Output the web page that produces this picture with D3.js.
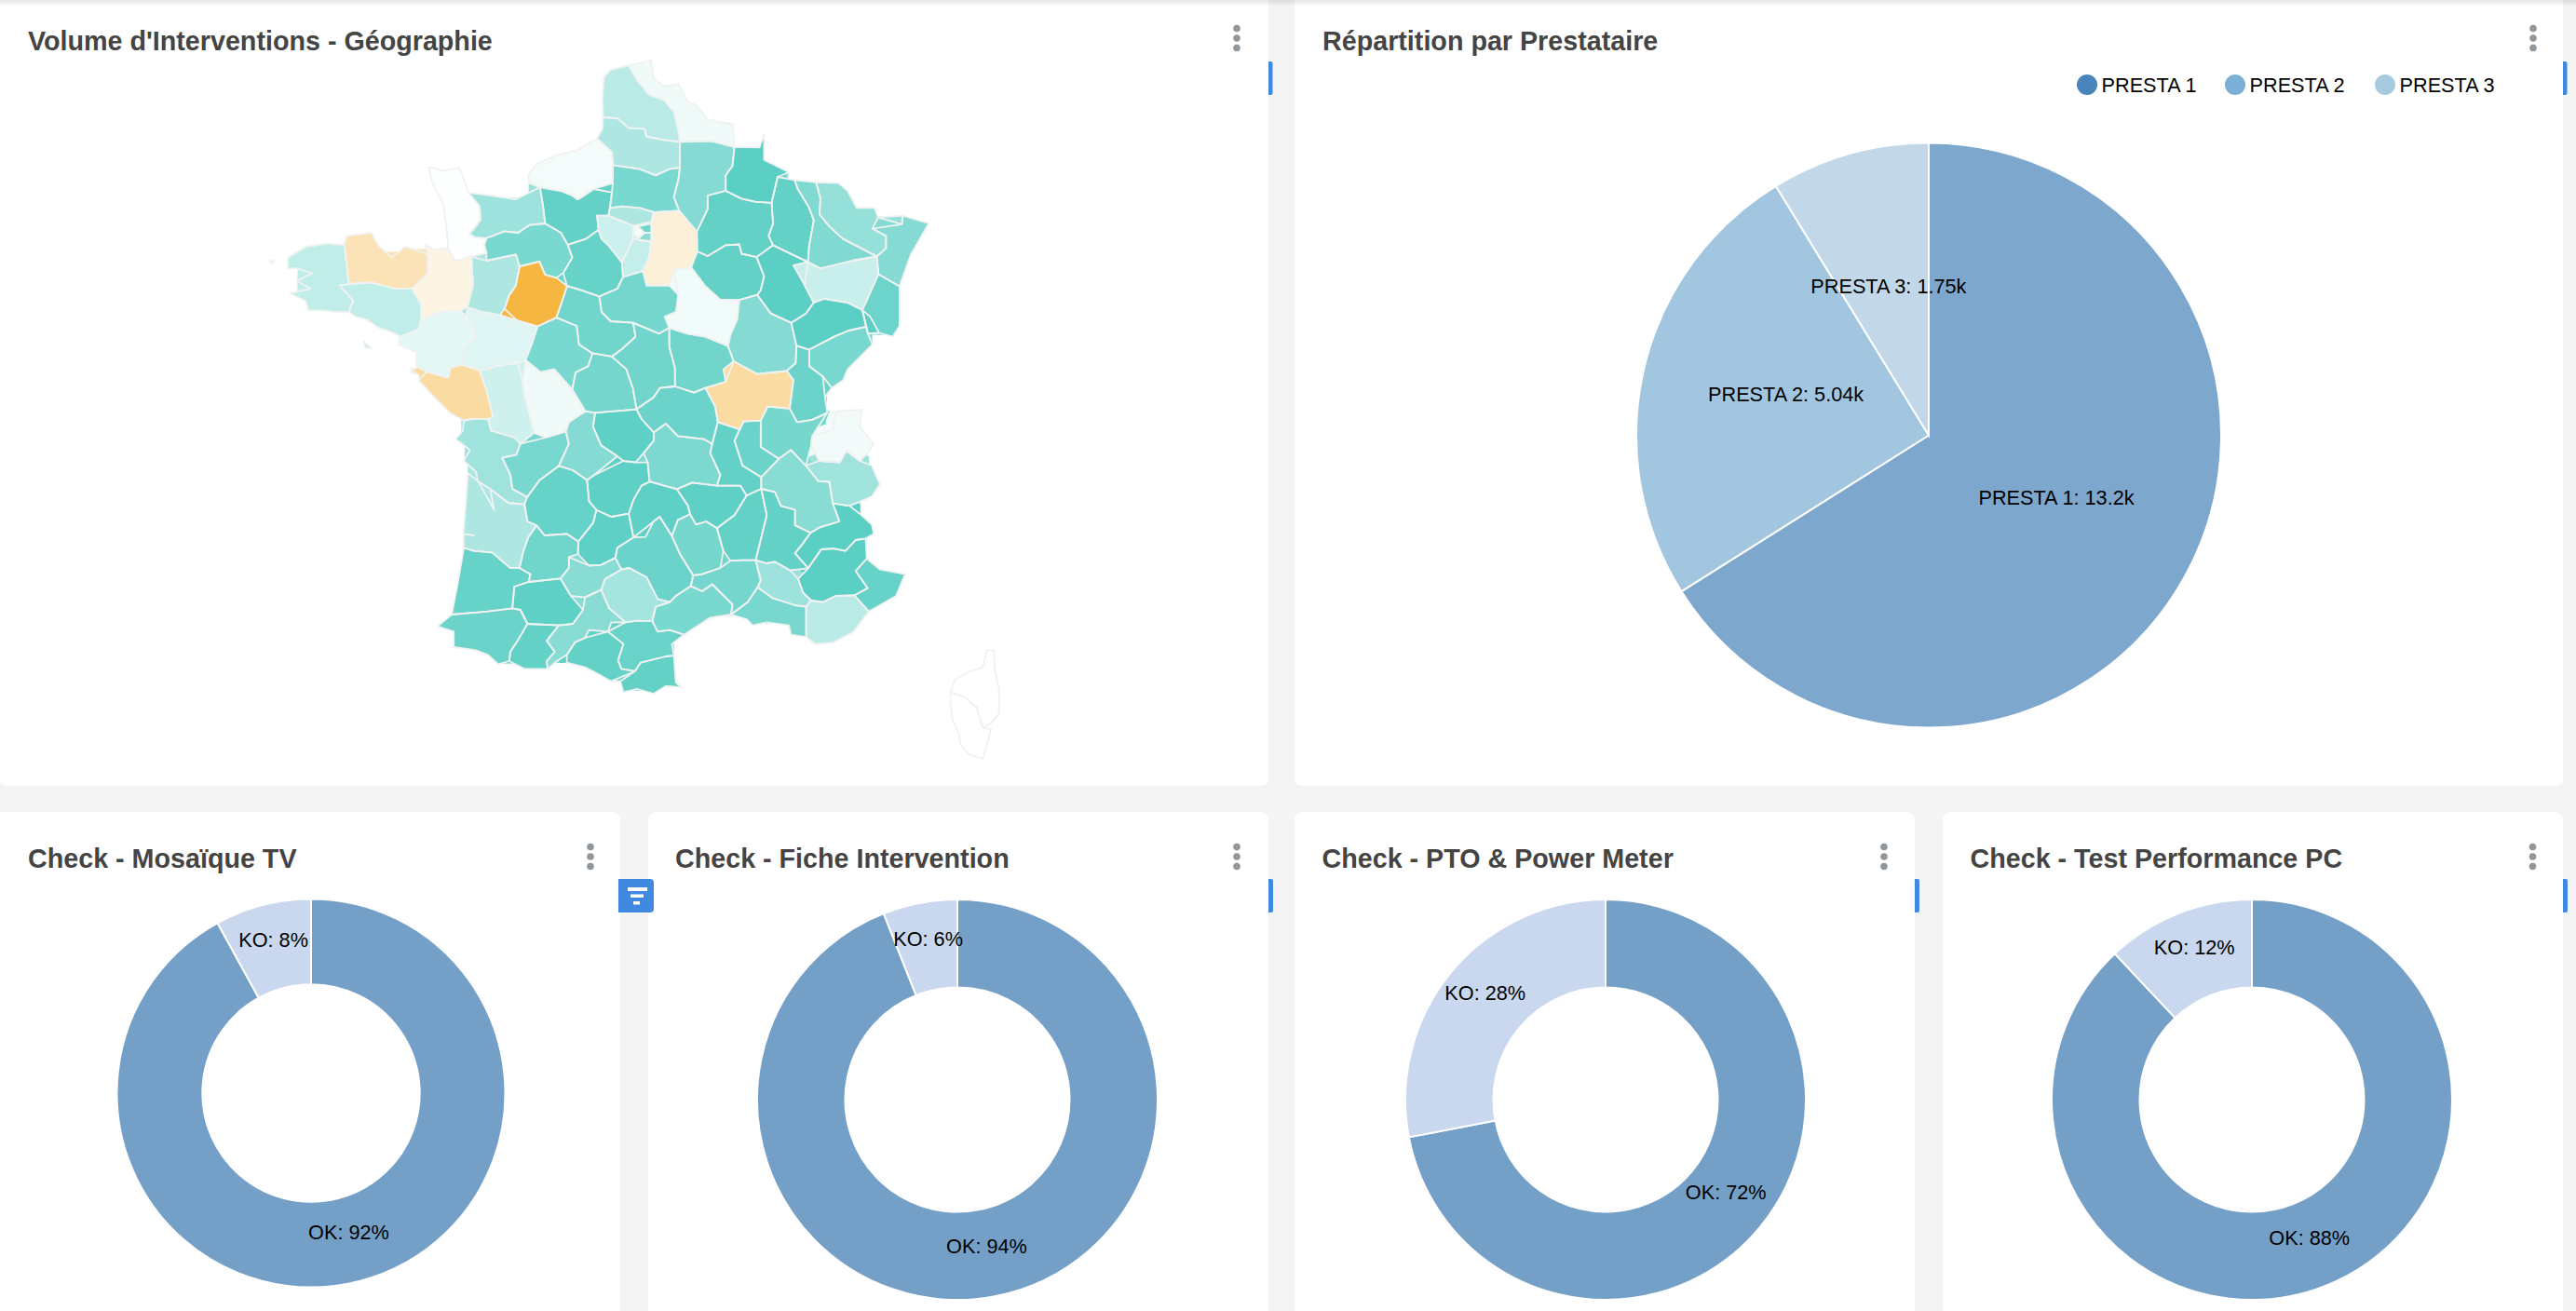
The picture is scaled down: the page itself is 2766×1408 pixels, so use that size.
<!DOCTYPE html>
<html><head><meta charset="utf-8">
<script src="https://cdn.jsdelivr.net/npm/d3@7"></script>
<style>
html,body{margin:0;padding:0;background:#f4f4f4;overflow:hidden}
svg{display:block}
text{font-family:"Liberation Sans",Arial,sans-serif}
</style></head><body>
<svg id="c" width="2766" height="1408"></svg>
<script>
// ---------- DATA ----------
const prestaLabels = ["PRESTA 1","PRESTA 2","PRESTA 3"];
const prestaValues = [13200,5040,1750];
const checkTitles = ["Check - Mosaïque TV","Check - Fiche Intervention","Check - PTO & Power Meter","Check - Test Performance PC"];
const checkLabels = ["OK","KO"];
const checkOK = [92,94,72,88];
const checkKO = [8,6,28,12];
const mapTitle = "Volume d'Interventions - Géographie";
const pieTitle = "Répartition par Prestataire";

// Department outlines: [code, volume index, outline].
// Index: negative = orange side, positive = teal side.
const deptNorth = [
["59",10,"815,60 865,45 870,100 895,130 925,120 945,175 965,190 990,235 1045,250 1048,310 1000,305 930,312 925,270 915,210 895,180 890,160 860,155 835,110"],
["62",43,"760,100 775,75 815,62 835,110 860,155 890,160 895,185 915,210 925,270 925,300 890,300 855,290 850,265 815,262 790,230 760,228 757,170"],
["80",50,"757,228 790,232 815,262 850,265 855,290 890,300 930,305 930,390 905,395 875,415 840,395 780,382 778,340 745,295 757,265"],
["02",75,"930,312 1000,305 1050,330 1045,385 1030,415 1030,465 990,480 985,520 995,525 965,590 935,535 925,520 915,485 925,430 930,390"],
["08",100,"1050,330 1105,325 1115,282 1115,365 1170,405 1145,420 1135,500 1095,500 1065,490 1030,465 1030,415 1045,385"],
["76",7,"745,298 778,340 780,440 745,458 710,490 690,480 665,465 620,450 595,440 592,415 610,380 655,350 700,335"],
["60",82,"780,382 840,395 875,415 905,395 925,390 925,430 915,485 925,520 925,535 880,530 840,520 800,515 775,520 780,440"],
["27",95,"620,450 665,465 690,480 695,495 730,460 778,470 770,520 745,545 745,590 720,620 680,635 665,600 630,570 625,510"],
["14",60,"462,472 510,480 565,492 615,460 625,510 630,570 595,575 570,600 540,595 500,610 480,610 462,605 485,560 485,515"],
["50",1,"372,388 405,400 440,390 448,420 458,470 485,515 488,560 462,605 470,620 500,630 500,665 465,670 430,690 415,650 412,590 405,510 380,440"],
["61",82,"500,612 540,595 570,600 595,575 630,570 665,600 680,640 690,680 670,730 655,745 625,695 610,690 580,700 565,670 500,690 495,640"],
["35",-15,"365,640 385,655 415,650 430,690 465,675 470,770 460,830 440,850 395,855 355,880 355,830 335,785 370,730 370,670"],
["22",-38,"190,610 245,600 260,640 290,680 320,645 345,655 370,670 370,730 335,770 300,770 295,790 245,760 195,765"],
["29",38,"60,680 100,645 150,635 185,640 190,700 195,765 175,770 205,820 195,855 170,855 130,850 105,850 100,820 65,795 110,780 80,755 115,730 80,715 60,715"],
["56",38,"175,770 195,765 245,760 295,790 300,770 335,785 355,830 355,880 350,910 290,920 260,905 235,880 210,870 195,855 205,820"],
["44",17,"355,880 395,855 430,848 455,870 470,900 475,935 445,975 445,1025 420,1035 420,1060 410,1070 370,1055 345,1030 345,985 305,960 310,935 350,910"],
["49",20,"455,855 490,855 530,865 565,880 610,905 600,960 590,1010 540,1025 480,1040 445,1025 445,975 475,935 470,900"],
["53",50,"470,685 500,690 565,670 570,710 565,770 550,810 540,845 530,865 490,855 455,850 470,770"],
["72",-100,"610,690 625,695 630,735 678,770 670,810 655,870 620,895 570,885 540,845 550,795 565,770 570,715"],
["28",93,"680,640 720,620 745,590 755,620 800,705 800,750 790,780 745,805 710,785 680,770 670,730 690,680"],
["78",31,"745,545 770,545 820,575 825,620 800,690 770,640 755,590"],
["95",50,"775,520 800,515 840,520 865,530 865,565 830,580 770,545"],
["93",88,"835,580 865,570 868,600 850,600"],
["92",5,"825,600 835,580 850,600 835,620"],
["94",70,"850,600 868,600 868,630 840,625 835,620"],
["91",36,"825,620 860,625 860,680 845,720 805,735 800,690"],
["77",-20,"868,540 925,535 965,600 968,660 950,710 915,725 905,770 855,770 850,730 860,680 870,630"],
["45",85,"805,735 845,720 855,770 905,770 925,800 920,855 895,870 905,905 885,925 825,885 775,885 755,850 755,800 790,780 800,750"],
["41",87,"678,775 710,785 745,805 755,810 755,860 775,885 825,890 830,935 800,975 775,990 735,990 705,960 700,900 655,875 670,810"],
["37",82,"610,905 655,875 700,900 705,960 735,990 725,1030 700,1050 690,1095 650,1040 620,1050 590,1010 600,960"],
["86",10,"580,1010 620,1050 650,1040 690,1095 690,1115 718,1180 683,1210 678,1235 633,1260 607,1240 598,1200 585,1130"],
["79",30,"490,1045 570,1020 580,1080 585,1130 598,1200 607,1240 602,1255 575,1280 562,1260 508,1235 520,1195 500,1110"],
["85",-50,"350,1075 365,1040 415,1070 420,1035 445,1025 485,1045 500,1105 520,1185 504,1200 450,1205 419,1180 378,1120"],
["18",87,"825,895 880,925 905,905 905,965 920,1030 915,1090 885,1100 870,1130 830,1160 825,1100 810,1040 780,1010 800,975 830,935"],
["36",85,"735,985 775,985 780,1010 810,1040 825,1110 830,1170 745,1175 720,1170 690,1115 695,1050 725,1030"],
["58",87,"905,910 945,925 985,935 1035,965 1045,1005 1025,1040 1030,1080 985,1100 960,1115 920,1100 915,1040 905,970"],
["89",9,"915,715 950,715 985,780 1015,815 1060,820 1055,880 1040,930 1035,965 985,935 945,925 905,905 895,870 920,855 925,800"],
["10",96,"968,680 990,675 1030,640 1060,640 1065,670 1095,680 1115,740 1110,780 1060,810 1020,815 985,765 960,710"],
["51",96,"990,480 1030,465 1065,490 1130,505 1135,570 1125,610 1135,640 1100,675 1065,665 1060,635 1030,640 990,675 965,640 968,600 995,530 985,520"],
["55",96,"1145,420 1180,425 1190,460 1215,520 1225,560 1215,640 1210,695 1170,665 1135,640 1125,610 1135,570 1130,505"],
["52",100,"1100,680 1135,640 1170,665 1205,700 1205,770 1225,825 1205,860 1170,890 1130,860 1105,790 1115,740"],
["57",65,"1235,445 1280,440 1300,465 1320,520 1360,520 1365,545 1420,540 1420,570 1370,555 1350,590 1385,610 1385,650 1365,670 1290,620 1260,580 1240,540"],
["54",78,"1185,435 1225,430 1240,490 1235,540 1290,620 1365,675 1310,690 1240,715 1220,695 1210,690 1220,600 1225,560 1190,460"],
["67",75,"1365,580 1420,575 1425,550 1480,570 1460,620 1440,670 1415,770 1370,730 1365,680 1385,650 1385,610 1350,590"],
["68",90,"1370,735 1415,775 1415,900 1400,935 1375,930 1350,900 1330,850 1345,810"],
["88",33,"1180,705 1215,690 1240,715 1310,690 1365,680 1365,735 1345,810 1335,845 1300,825 1250,815 1225,825 1205,770"],
["90",100,"1335,850 1350,870 1365,915 1345,925 1335,890"],
["70",100,"1245,810 1300,825 1330,850 1340,910 1300,915 1270,935 1215,975 1185,960 1180,890 1210,860 1225,825"],
["25",83,"1215,975 1270,935 1305,915 1340,910 1355,960 1300,1040 1290,1075 1250,1130 1245,1060 1215,1030"],
["21",75,"1060,820 1100,800 1130,860 1175,890 1185,965 1185,1020 1165,1045 1100,1055 1050,1020 1035,965 1055,880"],
["71",-50,"985,1100 1030,1080 1040,1010 1055,1020 1100,1055 1165,1045 1180,1075 1175,1160 1125,1160 1108,1205 1072,1205 1067,1230 1018,1210 1000,1160"],
["39",91,"1190,965 1215,980 1215,1030 1245,1065 1265,1100 1250,1130 1255,1180 1219,1205 1188,1210 1170,1170 1180,1075 1165,1045 1185,1020"],
["i1",40,"228,950 245,972 232,972"],
["i2",-50,"333,1035 345,1055 335,1052"],
["i3",20,"20,690 30,692 25,697"]
];
const deptSouth = [
["03",91,"610,60 665,-10 700,-20 706,-10 750,5 778,-10 810,50 820,85 800,105 795,170 775,155 710,145 680,105 650,130 620,90"],
["23",98,"505,70 610,65 620,90 650,130 650,160 625,200 600,225 575,225 560,210 520,175 500,115"],
["87",75,"440,100 500,75 500,115 520,175 560,210 500,265 485,285 450,255 415,240 435,170"],
["16",83,"320,170 380,150 430,135 445,170 410,235 370,285 340,340 300,315 295,270 275,215 310,205"],
["17",58,"180,125 200,90 240,90 250,130 305,150 320,170 310,205 275,215 295,270 300,315 330,345 330,365 290,360 245,315 210,260 180,225 195,190 160,155 175,130"],
["33",50,"190,265 215,290 250,380 260,385 245,315 290,360 330,365 340,420 360,430 340,470 325,520 320,560 295,570 250,520 205,515 180,505 178,470 205,465 180,450 185,360"],
["40",93,"180,505 205,515 250,520 295,570 315,580 345,590 340,615 305,630 300,700 240,710 150,720 165,620"],
["64",91,"115,758 150,720 240,710 320,705 330,750 315,800 295,840 290,870 265,880 240,850 210,835 155,825 155,775"],
["65",96,"320,705 345,750 410,765 385,805 405,840 385,870 385,895 330,895 295,870 315,800 330,750"],
["32",98,"300,700 305,630 340,615 410,600 425,610 445,660 475,705 450,750 420,745 410,765 345,750 320,705"],
["47",88,"340,470 360,440 380,465 435,460 465,485 460,520 440,535 425,600 410,600 340,615 345,590 315,580 320,560 330,510"],
["24",93,"340,340 365,290 410,235 425,255 485,290 490,355 505,385 500,425 465,480 435,460 380,465 360,430 335,420"],
["19",98,"490,285 515,265 575,225 610,235 635,230 640,300 600,350 590,395 545,405 510,380 490,355"],
["46",98,"510,385 545,405 585,395 600,470 565,500 555,535 520,560 490,560 465,530 460,490 500,425"],
["82",73,"440,535 490,565 555,540 570,575 530,605 520,640 480,665 445,660 425,610 440,570"],
["12",91,"600,475 650,420 665,405 695,470 715,530 745,590 755,610 740,630 705,660 690,680 660,670 635,600 590,570 570,575 555,510"],
["15",98,"640,290 700,320 735,370 740,395 710,415 695,465 665,405 630,470 600,470 590,395 600,350 620,305"],
["43",98,"715,310 745,295 800,310 865,305 880,340 850,400 810,440 780,420 755,430 740,395 735,370"],
["48",84,"740,400 755,430 780,420 805,445 820,510 815,570 770,590 740,570 715,520 695,465 710,415"],
["63",80,"650,140 680,105 710,145 775,155 790,200 815,270 810,305 745,295 715,315 700,320 640,285 625,200 650,160"],
["42",96,"800,110 860,125 850,160 870,240 915,280 910,310 880,335 865,305 810,300 815,270 790,200"],
["69",91,"860,125 870,100 915,95 915,180 960,215 925,265 910,280 870,240 850,160"],
["01",84,"915,95 930,50 985,60 1005,100 1045,90 1080,70 1040,150 1025,240 990,190 960,215 915,180"],
["74",8,"1095,100 1105,65 1165,60 1160,115 1195,170 1180,200 1160,225 1125,190 1110,230 1060,225 1040,175 1045,140 1095,125"],
["73",58,"1030,240 1060,225 1110,230 1130,195 1160,225 1190,240 1210,300 1190,340 1135,370 1095,360 1085,290 1060,280"],
["38",73,"915,285 960,225 990,190 1025,240 1055,300 1085,295 1090,360 1110,420 1060,440 1030,455 1000,430 1000,380 965,370 950,325 920,320"],
["26",96,"920,320 950,325 965,370 1000,385 1000,435 1040,460 1020,490 1000,525 1030,565 1020,585 990,575 950,550 930,555 905,545 930,400"],
["07",96,"880,335 915,310 930,400 900,545 870,545 840,550 825,520 805,440 850,400"],
["05",100,"1095,365 1135,370 1160,395 1190,430 1195,460 1150,480 1125,515 1095,510 1065,510 1045,565 1030,565 1000,520 1020,490 1045,455 1110,420"],
["04",100,"1065,510 1095,505 1125,515 1175,475 1175,540 1150,580 1180,635 1145,655 1100,660 1070,680 1040,665 1010,610 1025,575 1045,570"],
["06",93,"1180,540 1210,575 1270,580 1275,600 1250,660 1185,710 1150,660 1180,635 1150,580"],
["83",43,"1040,680 1070,680 1100,660 1145,660 1180,710 1145,775 1095,810 1050,815 1030,795 1030,700"],
["13",83,"905,640 945,670 1000,690 1025,690 1025,790 990,785 985,755 930,745 895,755 880,735 845,725 880,680"],
["84",60,"905,545 930,555 985,580 1005,600 1020,650 1040,680 1000,690 945,665 910,625"],
["30",85,"745,590 770,590 815,570 830,540 850,550 900,545 915,610 885,680 845,725 845,690 800,625 770,645 745,625 755,610"],
["34",82,"655,695 690,680 705,660 740,630 770,645 790,620 845,685 835,710 790,730 725,785 690,770 660,775 645,745"],
["81",55,"520,640 530,605 590,570 630,600 660,670 690,680 655,695 650,740 610,740 580,745 540,700"],
["31",73,"480,665 520,640 540,700 580,745 545,745 535,775 490,770 480,795 455,810 435,850 410,870 390,895 385,870 405,840 385,805 420,745 450,750 475,705"],
["09",96,"435,875 455,810 480,795 535,775 575,815 570,865 555,870 570,895 600,905 565,925 510,910 480,890"],
["11",92,"540,775 580,745 645,740 660,775 690,770 725,785 695,815 700,850 680,855 620,875 615,895 600,905 570,895 560,870 575,815"],
["66",96,"545,935 600,905 615,875 680,855 700,855 705,940 720,955 680,950 650,975 610,960 575,970 570,945"],
["2B",0,"1475,835 1492,835 1495,900 1505,960 1505,1040 1485,1070 1465,1085 1450,1020 1420,985 1385,970 1395,930 1430,905 1465,890"],
["2A",0,"1385,970 1420,985 1450,1020 1465,1085 1485,1090 1475,1140 1465,1185 1430,1170 1410,1140 1405,1100 1390,1060 1385,1010"]
];
const unsnapped = new Set(["93","92","94","i1","i2","i3","2A","2B"]);

// ---------- LAYOUT ----------
const svg = d3.select("#c");
const W=2766,H=1408;
const ink="#444444", dotsC="#8f979d", blue="#3f8ae0";
const topCards=[{x:0,y:-10,w:1362,h:854,title:mapTitle,dots:1328},{x:1390,y:-10,w:1362,h:854,title:pieTitle,dots:2720}];
const lowCards=[{x:-10,w:676},{x:696,w:666},{x:1390,w:666},{x:2086,w:666}];

const defs=svg.append("defs");
const g0=defs.append("linearGradient").attr("id","sh").attr("x1",0).attr("x2",0).attr("y1",0).attr("y2",1);
g0.append("stop").attr("offset",0).attr("stop-color","#000").attr("stop-opacity",.1);
g0.append("stop").attr("offset",1).attr("stop-color","#000").attr("stop-opacity",0);

svg.append("rect").attr("width",W).attr("height",H).attr("fill","#f4f4f4");

function dots(x,cy){
  [-10.5,0,10.5].forEach(d=>svg.append("circle").attr("cx",x).attr("cy",cy+d).attr("r",3.8).attr("fill",dotsC));
}
function tab(x,y,w,h){
  svg.append("path").attr("fill",blue)
   .attr("d",`M${x},${y}h${w-2}q2,0 2,2v${h-4}q0,2 -2,2h-${w-2}z`);
}
const titleSize=28.7, labelSize=21.7;
topCards.forEach(c=>{
  svg.append("rect").attr("x",c.x).attr("y",c.y).attr("width",c.w).attr("height",c.h).attr("rx",8).attr("fill","#fff");
  svg.append("text").attr("x",c.x+30).attr("y",54).attr("font-size",titleSize).attr("font-weight",700).attr("fill",ink).text(c.title);
  dots(c.dots,41);
  tab(c.x+c.w,66,4.5,36);
});
lowCards.forEach((c,i)=>{
  svg.append("rect").attr("x",c.x).attr("y",872).attr("width",c.w).attr("height",600).attr("rx",8).attr("fill","#fff");
  svg.append("text").attr("x",i==0?30:c.x+(i==1?29:29.5)).attr("y",932).attr("font-size",titleSize).attr("font-weight",700).attr("fill",ink).text(checkTitles[i]);
  dots([634,1328,2023,2719.5][i],920);
  if(i>0) tab(c.x+c.w,944,5,36);
});
svg.append("rect").attr("width",W).attr("height",7).attr("fill","url(#sh)");

// filter button
svg.append("path").attr("fill",blue).attr("d","M664,944h34q4,0 4,4v28q0,4 -4,4h-34z");
[[674,953,21,4],[677,960.5,14,3.5],[680,968,7,3.5]].forEach(b=>svg.append("rect").attr("x",b[0]).attr("y",b[1]).attr("width",b[2]).attr("height",b[3]).attr("fill","#fff"));

// ---------- MAP ----------
const xN=d3.scaleLinear([0,1568],[280,1040]), yN=d3.scaleLinear([0,1200],[50,450]);
const xS=d3.scaleLinear([0,1568],[420,1100]), yS=d3.scaleLinear([0,1260],[420,840]);
const mapColor=d3.scaleLinear().domain([-100,0,100]).range(["#f5b642","#ffffff","#5ccfc4"]);
const parse=(rows,sx,sy)=>rows.map(d=>({id:d[0],value:d[1],pts:d[2].split(" ").map(p=>{const a=p.split(",").map(Number);return [sx(a[0]),sy(a[1])];})}));
const shapes=[...parse(deptNorth,xN,yN),...parse(deptSouth,xS,yS)];

// Make neighbouring traced outlines share their borders.
const SNAP=8, EDGE=6.5;
const soft=shapes.filter(s=>!unsnapped.has(s.id));
const seeds=[];
soft.forEach(s=>{s.pts=s.pts.map(p=>{
  let c=seeds.find(q=>Math.hypot(q.x-p[0],q.y-p[1])<SNAP);
  if(!c){c={x:p[0],y:p[1],sx:0,sy:0,n:0};seeds.push(c);}
  c.sx+=p[0];c.sy+=p[1];c.n++;
  return c;
});});
seeds.forEach(c=>{c.x=c.sx/c.n;c.y=c.sy/c.n;});
soft.forEach(s=>{
  const out=[];
  s.pts=s.pts.filter((p,i,a)=>p!==a[(i+1)%a.length]);
  s.pts.forEach((a,i)=>{
    const b=s.pts[(i+1)%s.pts.length];
    out.push(a);
    const dx=b.x-a.x,dy=b.y-a.y,L=dx*dx+dy*dy;
    const ins=[];
    if(L>0) seeds.forEach(v=>{
      if(v===a||v===b) return;
      const t=((v.x-a.x)*dx+(v.y-a.y)*dy)/L;
      if(t<=0.02||t>=0.98) return;
      const d=Math.hypot(a.x+t*dx-v.x,a.y+t*dy-v.y);
      if(d<EDGE && !s.pts.includes(v)) ins.push({t,v});
    });
    ins.sort((p,q)=>p.t-q.t).forEach(e=>out.push(e.v));
  });
  s.pts=out;
});
const features=shapes.map(s=>{
  const ring=s.pts.map(p=>Array.isArray(p)?p:[p.x,p.y]);
  ring.push(ring[0]);
  return {type:"Feature",id:s.id,properties:{value:s.value},geometry:{type:"Polygon",coordinates:[ring]}};
});
const path=d3.geoPath();

const f=defs.append("filter").attr("id","close").attr("filterUnits","userSpaceOnUse")
  .attr("x",200).attr("y",30).attr("width",950).attr("height",830);
f.append("feMorphology").attr("operator","dilate").attr("radius",7).attr("result","d");
f.append("feMorphology").attr("in","d").attr("operator","erode").attr("radius",7);
const m=defs.append("mask").attr("id","closed").attr("maskUnits","userSpaceOnUse")
  .attr("x",0).attr("y",0).attr("width",W).attr("height",H);
m.append("g").attr("filter","url(#close)").selectAll("path")
  .data(features.filter(d=>d.properties.value!==0)).join("path").attr("d",path).attr("fill","#fff");

const mapG=svg.append("g");
mapG.append("g").attr("mask","url(#closed)").selectAll("path")
  .data(features.filter(d=>d.properties.value!==0)).join("path").attr("d",path)
  .attr("fill","none").attr("stroke",d=>mapColor(d.properties.value)).attr("stroke-width",16);
mapG.append("g").selectAll("path").data(features).join("path").attr("d",path)
  .attr("fill",d=>mapColor(d.properties.value));
mapG.append("g").selectAll("path").data(features).join("path").attr("d",path)
  .attr("fill","none").attr("stroke","#f0f2f2").attr("stroke-width",1.8).attr("stroke-linejoin","round");

// ---------- PIE ----------
const pieC={x:2071,y:467.5,r:314};
const prestaData=prestaLabels.map((l,i)=>({label:l,value:prestaValues[i]}));
const pieColor=d3.scaleOrdinal(prestaLabels,["#7da7cd","#a2c6e0","#c2d8e9"]);
const legColor=d3.scaleOrdinal(prestaLabels,["#4a84bc","#7cafd6","#a8cae0"]);
const pie=d3.pie().sort(null).value(d=>d.value);
const arcP=d3.arc().innerRadius(0).outerRadius(pieC.r);
const gP=svg.append("g").attr("transform",`translate(${pieC.x},${pieC.y})`);
const fmt=d3.format(".3s");
gP.selectAll("path").data(pie(prestaData)).join("path").attr("d",arcP)
  .attr("fill",d=>pieColor(d.data.label)).attr("stroke","#fff").attr("stroke-width",2);
gP.selectAll("text").data(pie(prestaData)).join("text")
  .attr("transform",d=>{const c=arcP.centroid(d);return `translate(${c[0]-0.5},${c[1]-1})`;}).attr("text-anchor","middle")
  .attr("font-size",labelSize).attr("fill","#000").text(d=>`${d.data.label}: ${fmt(d.data.value)}`);
// legend
const legX=d3.scaleOrdinal(prestaLabels,[2241,2400,2561]);
const gL=svg.append("g");
prestaLabels.forEach(l=>{
  gL.append("circle").attr("cx",legX(l)).attr("cy",91).attr("r",11).attr("fill",legColor(l));
  gL.append("text").attr("x",legX(l)+15.5).attr("y",98.5).attr("font-size",labelSize).attr("fill","#000").text(l);
});

// ---------- DONUTS ----------
const donutC=[{x:334,y:1174,r:208.5,ir:116.7},{x:1028,y:1181,r:215,ir:120.5},{x:1724,y:1181,r:215,ir:120.5},{x:2418,y:1181,r:215,ir:120.5}];
const donutColor=d3.scaleOrdinal(checkLabels,["#74a0c8","#c9d8ee"]);
checkTitles.forEach((t,i)=>{
  const c=donutC[i];
  const rows=[{label:"OK",value:checkOK[i]},{label:"KO",value:checkKO[i]}];
  const arc=d3.arc().innerRadius(c.ir).outerRadius(c.r);
  const g=svg.append("g").attr("transform",`translate(${c.x},${c.y})`);
  g.selectAll("path").data(pie(rows)).join("path").attr("d",arc)
    .attr("fill",d=>donutColor(d.data.label)).attr("stroke","#fff").attr("stroke-width",2);
  g.selectAll("text").data(pie(rows)).join("text")
    .attr("transform",d=>`translate(${arc.centroid(d)})`).attr("text-anchor","middle")
    .attr("font-size",labelSize).attr("fill","#000").text(d=>`${d.data.label}: ${d.data.value}%`);
});
</script>
</body></html>
